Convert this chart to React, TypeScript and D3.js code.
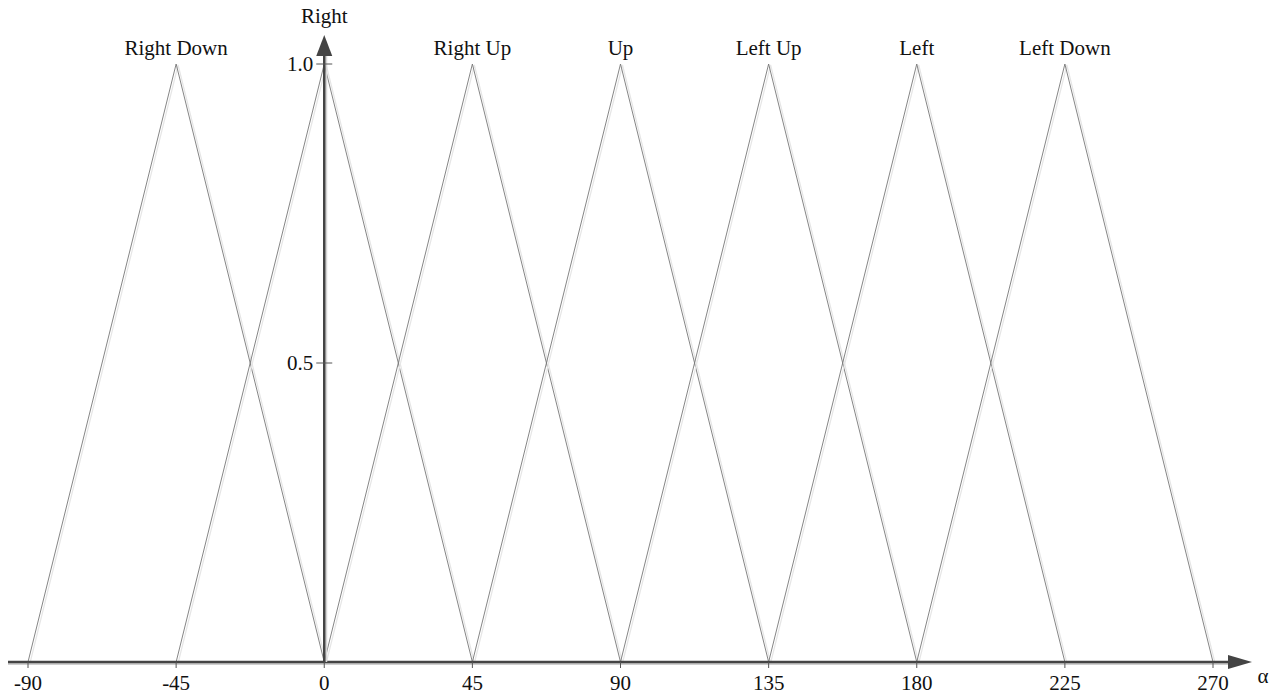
import React from "react";
import * as d3 from "d3";

// Fuzzy membership sets for direction angle α (degrees)
const setNames = ["Right Down", "Right", "Right Up", "Up", "Left Up", "Left", "Left Down"];
const setCenters = [-45, 0, 45, 90, 135, 180, 225];
const setHalfWidth = 45;
const xTicks = [-90, -45, 0, 45, 90, 135, 180, 225, 270];
const yTicks = [0.5, 1.0];

const W = 1277;
const H = 695;

export default function App() {
  const x = d3.scaleLinear().domain([-90, 270]).range([28, 1213]);
  const y = d3.scaleLinear().domain([0, 1]).range([662, 64]);
  const line = d3
    .line<[number, number]>()
    .x((d) => x(d[0]))
    .y((d) => y(d[1]));

  const font = "'Liberation Serif', 'Times New Roman', serif";
  const axisColor = "#444";
  const fs = 21;
  const x0 = x(0);
  const yBase = y(0);

  return (
    <svg
      width={W}
      height={H}
      style={{ position: "absolute", left: 0, top: 0, background: "#fff" }}
      fontFamily={font}
    >
      {/* triangles: soft shadow first, then the line */}
      {setCenters.map((c, i) => {
        const pts: [number, number][] = [
          [c - setHalfWidth, 0],
          [c, 1],
          [c + setHalfWidth, 0],
        ];
        return (
          <g key={setNames[i]}>
            <path
              d={line(pts) || ""}
              transform="translate(2,1)"
              fill="none"
              stroke="#e6e6e6"
              strokeWidth={1.2}
            />
            <path d={line(pts) || ""} fill="none" stroke="#777" strokeWidth={0.9} />
          </g>
        );
      })}

      {/* x axis */}
      <line x1={8} x2={1236} y1={yBase + 2} y2={yBase + 2} stroke="#cfcfcf" strokeWidth={2} />
      <line x1={8} x2={1236} y1={yBase} y2={yBase} stroke={axisColor} strokeWidth={2.5} />
      <polygon
        points={`1228,${yBase - 7} 1252,${yBase} 1228,${yBase + 7}`}
        fill={axisColor}
      />
      {xTicks.map((t) => (
        <g key={t}>
          <line x1={x(t)} x2={x(t)} y1={yBase} y2={yBase + 6} stroke="#555" strokeWidth={1} />
          <text x={x(t)} y={690} textAnchor="middle" fontSize={fs} fill="#111">
            {t}
          </text>
        </g>
      ))}
      <text x={1263} y={683} textAnchor="middle" fontSize={fs} fill="#111">
        α
      </text>

      {/* y axis */}
      <line x1={x0 + 2} x2={x0 + 2} y1={yBase} y2={56} stroke="#d6d6d6" strokeWidth={2} />
      <line x1={x0} x2={x0} y1={yBase} y2={56} stroke={axisColor} strokeWidth={2.5} />
      <polygon points={`${x0 - 8},56 ${x0},35 ${x0 + 8},56`} fill={axisColor} />
      {yTicks.map((t) => (
        <g key={t}>
          <line x1={x0 - 8} x2={x0 + 8} y1={y(t)} y2={y(t)} stroke="#555" strokeWidth={1} />
          <text x={x0 - 11} y={y(t) + 7} textAnchor="end" fontSize={fs} fill="#111">
            {t.toFixed(1)}
          </text>
        </g>
      ))}
      <text x={x0} y={23} textAnchor="middle" fontSize={fs} fill="#111">
        Right
      </text>

      {/* set labels above peaks */}
      {setCenters.map((c, i) =>
        setNames[i] === "Right" ? null : (
          <text key={setNames[i]} x={x(c)} y={55} textAnchor="middle" fontSize={fs} fill="#111">
            {setNames[i]}
          </text>
        )
      )}
    </svg>
  );
}
